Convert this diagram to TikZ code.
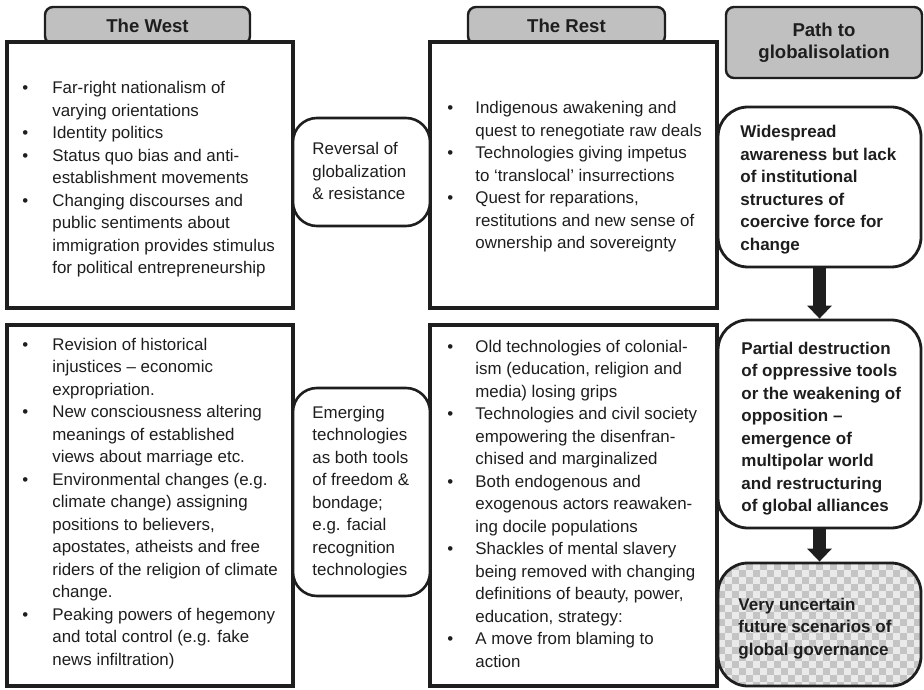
\documentclass[tikz,border=0pt]{standalone}
\usepackage{fontspec}
\setmainfont{Liberation Sans}
\usetikzlibrary{arrows.meta}
\definecolor{hdrgray}{HTML}{C0C0C0}
\definecolor{ink}{HTML}{1E1E1E}
\definecolor{chklight}{HTML}{EAEAEA}
\definecolor{chkdark}{HTML}{C4C4C4}
\tikzset{
  sqbox/.style={draw=ink, line width=1.6pt, fill=white, inner sep=0pt},
  rndbox/.style={draw=ink, line width=1.3pt, fill=white, rounded corners=12pt, inner sep=0pt},
  pathbox/.style={draw=ink, line width=1.4pt, fill=white, rounded corners=15pt, inner sep=0pt},
  hdrbox/.style={draw=ink, line width=1.2pt, fill=hdrgray, rounded corners=4pt, inner sep=0pt,
    align=center, text=ink, font=\fontsize{9.3}{11.25}\selectfont\bfseries},
  txt/.style={inner sep=0pt, anchor=base west, text=ink, font=\fontsize{8.45}{11.25}\selectfont},
  boldtxt/.style={txt, font=\fontsize{8.5}{11.25}\selectfont\bfseries},
  flowarrow/.style={draw=ink, line width=6.5pt, -{Triangle[length=6.5pt,width=12pt]}},
  chk/.style={fill=chkdark, draw=none, sharp corners},
}
\begin{document}
\begin{tikzpicture}[x=0.5pt, y=-0.5pt]
  \useasboundingbox (0,0) rectangle (924,689);

  % headers
  \node[hdrbox, minimum width=102.5pt, minimum height=18.5pt] (westhdr) at (147.5,25.5) {The West};
  \node[hdrbox, minimum width=98.5pt, minimum height=18.5pt] (resthdr) at (566.5,25.5) {The Rest};
  \node[hdrbox, minimum width=98pt, minimum height=35.5pt] (pathhdr) at (824,42.5) {Path to\\globalisolation};

  % the west
  \node[sqbox, minimum width=143pt, minimum height=133pt] (westtop) at (150,175) {};
  \node[sqbox, minimum width=143pt, minimum height=180.5pt] (westbot) at (150,505.5) {};

  % the rest
  \node[sqbox, minimum width=143.5pt, minimum height=133pt] (resttop) at (573.5,175) {};
  \node[sqbox, minimum width=143.5pt, minimum height=180.5pt] (restbot) at (573.5,505.5) {};

  % middle
  \node[rndbox, minimum width=68.5pt, minimum height=54pt] (midtop) at (361.5,172) {};
  \node[rndbox, minimum width=68.5pt, minimum height=104pt] (midbot) at (361.5,492) {};

  % path to globalisolation
  \node[pathbox, minimum width=101.5pt, minimum height=80pt] (stepone) at (819.5,187) {};
  \node[pathbox, minimum width=101.5pt, minimum height=104pt] (steptwo) at (819.5,424) {};
  \node[pathbox, fill=chklight, minimum width=101.5pt, minimum height=61.5pt,
    path picture={
      \foreach \i in {0,2,...,28}{
        \foreach \j in {0,2,...,16}{
          \path[chk] ([shift={(\i*7,\j*7)}]path picture bounding box.north west) rectangle ++(7,7);
          \path[chk] ([shift={(\i*7+7,\j*7+7)}]path picture bounding box.north west) rectangle ++(7,7);
        }
      }
    }] (stepthree) at (819.5,624.5) {};

  \draw[flowarrow] (stepone.south) -- (steptwo.north);
  \draw[flowarrow] (steptwo.south) -- (stepthree.north);

  % texts
  \node[txt] (westtoptxt) at (22,94) {\begin{tabular}[t]{@{}p{15pt}@{}l@{}}
    \textbullet & Far-right nationalism of\\
                & varying orientations\\
    \textbullet & Identity politics\\
    \textbullet & Status quo bias and anti-\\
                & establishment movements\\
    \textbullet & Changing discourses and\\
                & public sentiments about\\
                & immigration provides stimulus\\
                & for political entrepreneurship
  \end{tabular}};

  \node[txt] (westbottxt) at (22,350) {\begin{tabular}[t]{@{}p{15pt}@{}l@{}}
    \textbullet & Revision of historical\\
                & injustices -- economic\\
                & expropriation.\\
    \textbullet & New consciousness altering\\
                & meanings of established\\
                & views about marriage etc.\\
    \textbullet & Environmental changes (e.g.\\
                & climate change) assigning\\
                & positions to believers,\\
                & apostates, atheists and free\\
                & riders of the religion of climate\\
                & change.\\
    \textbullet & Peaking powers of hegemony\\
                & and total control (e.g. fake\\
                & news infiltration)
  \end{tabular}};

  \node[txt] (midtoptxt) at (312,155) {\begin{tabular}[t]{@{}l@{}}
    Reversal of\\
    globalization\\
    \& resistance
  \end{tabular}};

  \node[txt] (midbottxt) at (312,418) {\begin{tabular}[t]{@{}l@{}}
    Emerging\\
    technologies\\
    as both tools\\
    of freedom \&\\
    bondage;\\
    e.g. facial\\
    recognition\\
    technologies
  \end{tabular}};

  \node[txt] (resttoptxt) at (447,114) {\begin{tabular}[t]{@{}p{14pt}@{}l@{}}
    \textbullet & Indigenous awakening and\\
                & quest to renegotiate raw deals\\
    \textbullet & Technologies giving impetus\\
                & to `translocal' insurrections\\
    \textbullet & Quest for reparations,\\
                & restitutions and new sense of\\
                & ownership and sovereignty
  \end{tabular}};

  \node[txt] (restbottxt) at (447,352) {\begin{tabular}[t]{@{}p{14pt}@{}l@{}}
    \textbullet & Old technologies of colonial-\\
                & ism (education, religion and\\
                & media) losing grips\\
    \textbullet & Technologies and civil society\\
                & empowering the disenfran-\\
                & chised and marginalized\\
    \textbullet & Both endogenous and\\
                & exogenous actors reawaken-\\
                & ing docile populations\\
    \textbullet & Shackles of mental slavery\\
                & being removed with changing\\
                & definitions of beauty, power,\\
                & education, strategy:\\
    \textbullet & A move from blaming to\\
                & action
  \end{tabular}};

  \node[boldtxt] (steponetxt) at (740,138) {\begin{tabular}[t]{@{}l@{}}
    Widespread\\
    awareness but lack\\
    of institutional\\
    structures of\\
    coercive force for\\
    change
  \end{tabular}};

  \node[boldtxt] (steptwotxt) at (741,354) {\begin{tabular}[t]{@{}l@{}}
    Partial destruction\\
    of oppressive tools\\
    or the weakening of\\
    opposition --\\
    emergence of\\
    multipolar world\\
    and restructuring\\
    of global alliances
  \end{tabular}};

  \node[boldtxt] (stepthreetxt) at (738,610) {\begin{tabular}[t]{@{}l@{}}
    Very uncertain\\
    future scenarios of\\
    global governance
  \end{tabular}};
\end{tikzpicture}
\end{document}
